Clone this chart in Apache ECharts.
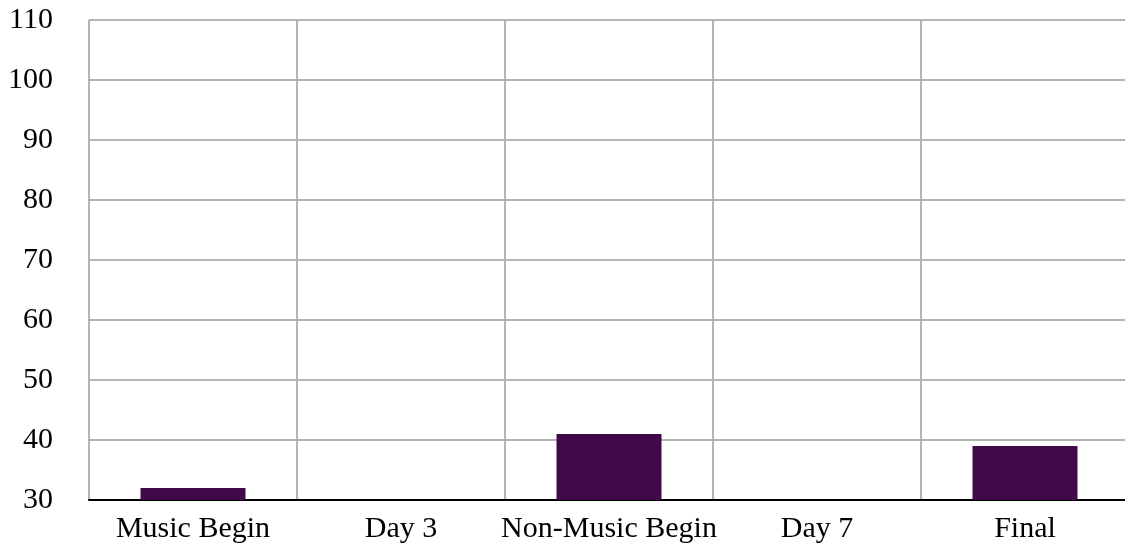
<!DOCTYPE html>
<html>
<head>
<meta charset="utf-8">
<script src="https://cdn.jsdelivr.net/npm/echarts@6/dist/echarts.min.js"></script>
<style>html,body{margin:0;padding:0;background:#fff;overflow:hidden;}#c{width:1133px;height:546px;}</style>
</head>
<body>
<div id="c"></div>
<script>
var categories = ['Music Begin', 'Day 3', 'Non-Music Begin', 'Day 7', 'Final'];
var values = [32, null, 41, null, 39];
var yTicks = [30, 40, 50, 60, 70, 80, 90, 100, 110];

var chart = echarts.init(document.getElementById('c'));
chart.setOption({
  backgroundColor: '#fff',
  animation: false,
  grid: { left: 89, right: 4, top: 20, bottom: 46, containLabel: false },
  xAxis: {
    type: 'category',
    data: categories,
    boundaryGap: true,
    axisLine: { show: true, lineStyle: { color: '#000', width: 2 } },
    axisTick: { show: false, interval: 0 },
    axisLabel: { interval: 0, color: '#000', fontFamily: 'Liberation Serif', fontSize: 30, margin: 14 },
    splitLine: { show: true, interval: 0, lineStyle: { color: '#b3b3b3', width: 2 } }
  },
  yAxis: {
    type: 'value',
    min: yTicks[0],
    max: yTicks[yTicks.length - 1],
    interval: 10,
    axisLine: { show: false },
    axisTick: { show: false },
    axisLabel: { color: '#000', fontFamily: 'Liberation Serif', fontSize: 30, margin: 36 },
    splitLine: { show: true, lineStyle: { color: '#b3b3b3', width: 2 } }
  },
  series: [{
    type: 'bar',
    data: values,
    barWidth: 105,
    itemStyle: { color: '#400a48' }
  }]
});
</script>
</body>
</html>
